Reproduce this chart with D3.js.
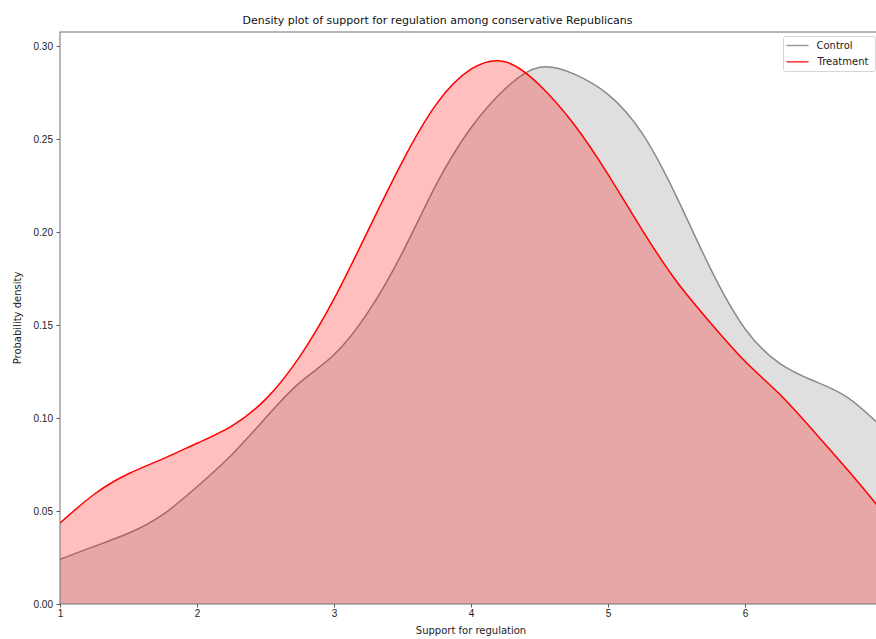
<!DOCTYPE html>
<html>
<head>
<meta charset="utf-8">
<script src="https://cdn.jsdelivr.net/npm/d3@7/dist/d3.min.js"></script>
<style>
  body { margin: 0; background: #fff; }
  svg { display: block; font-family: "DejaVu Sans", sans-serif; }
</style>
</head>
<body>
<svg id="chart"></svg>
<script>
const chartWidth = 876;
const chartHeight = 639;

// values, x step 0.25 from 1 to 7
const xValues = [
  1, 1.25, 1.5, 1.75, 2, 2.25, 2.5, 2.75, 3, 3.25, 3.5, 3.75, 4,
  4.25, 4.5, 4.75, 5, 5.25, 5.5, 5.75, 6, 6.25, 6.5, 6.75, 7,
];
const controlDensity = [
  0.024, 0.031, 0.038, 0.048, 0.063, 0.08, 0.1, 0.119, 0.134, 0.157,
  0.189, 0.226, 0.256, 0.277, 0.2885, 0.285, 0.274, 0.253, 0.219, 0.18,
  0.148, 0.1295, 0.12, 0.111, 0.095,
];
const treatmentDensity = [
  0.0435, 0.059, 0.07, 0.078, 0.0864, 0.0955, 0.11, 0.133, 0.164, 0.201,
  0.238, 0.269, 0.2875, 0.2915, 0.279, 0.258, 0.231, 0.201, 0.1735, 0.151,
  0.1305, 0.113, 0.093, 0.072, 0.05,
];
const xTicks = [1, 2, 3, 4, 5, 6];
const yTicks = [0, 0.05, 0.1, 0.15, 0.2, 0.25, 0.3];
const seriesNames = ["Control", "Treatment"];

const margin = { top: 32, left: 60, plotRight: 882, bottom: 604 };

const x = d3.scaleLinear().domain([1, 7]).range([margin.left, margin.plotRight]);
const y = d3.scaleLinear().domain([0, 0.3075]).range([margin.bottom, margin.top]);

const series = [
  { name: seriesNames[0], values: controlDensity, line: "#8a8a8a", fill: "#808080", legendLine: "#9a9a9a" },
  { name: seriesNames[1], values: treatmentDensity, line: "#ff0000", fill: "#ff0000", legendLine: "#ff3030" },
];

const svg = d3.select("#chart").attr("width", chartWidth).attr("height", chartHeight);

svg.append("defs")
  .append("clipPath")
  .attr("id", "plot-clip")
  .append("rect")
  .attr("x", margin.left)
  .attr("y", margin.top)
  .attr("width", margin.plotRight - margin.left)
  .attr("height", margin.bottom - margin.top);

const area = d3.area()
  .x((d, i) => x(xValues[i]))
  .y0(y(0))
  .y1((d) => y(d))
  .curve(d3.curveNatural);

const line = d3.line()
  .x((d, i) => x(xValues[i]))
  .y((d) => y(d))
  .curve(d3.curveNatural);

const plot = svg.append("g").attr("clip-path", "url(#plot-clip)");

series.forEach((s) => {
  plot.append("path")
    .attr("d", area(s.values))
    .attr("fill", s.fill)
    .attr("fill-opacity", 0.25);
  plot.append("path")
    .attr("d", line(s.values))
    .attr("fill", "none")
    .attr("stroke", s.line)
    .attr("stroke-width", 1.5);
});

//axes
const xAxis = svg.append("g")
  .attr("transform", "translate(0," + margin.bottom + ")")
  .call(d3.axisBottom(x).tickValues(xTicks).tickFormat(d3.format("d")).tickSize(3.5).tickPadding(2));

const yAxis = svg.append("g")
  .attr("transform", "translate(" + margin.left + ",0)")
  .call(d3.axisLeft(y).tickValues(yTicks).tickFormat(d3.format(".2f")).tickSize(3.5).tickPadding(3.5));

[xAxis, yAxis].forEach((ax) => {
  ax.select(".domain").remove();
  ax.selectAll("line").attr("stroke", "#555");
  ax.selectAll("text").attr("fill", "#222").style("font-size", "10px");
});

// spines
svg.append("rect")
  .attr("x", margin.left)
  .attr("y", margin.top)
  .attr("width", margin.plotRight - margin.left)
  .attr("height", margin.bottom - margin.top)
  .attr("fill", "none")
  .attr("stroke", "#707070")
  .attr("stroke-width", 1);

svg.append("text")
  .attr("x", 437.5)
  .attr("y", 24)
  .attr("text-anchor", "middle")
  .style("font-size", "11px")
  .attr("fill", "#111")
  .text("Density plot of support for regulation among conservative Republicans");

svg.append("text")
  .attr("x", (margin.left + margin.plotRight) / 2)
  .attr("y", 634)
  .attr("text-anchor", "middle")
  .style("font-size", "10px")
  .attr("fill", "#222")
  .text("Support for regulation");

svg.append("text")
  .attr("transform", "translate(21," + (margin.top + margin.bottom) / 2 + ") rotate(-90)")
  .attr("text-anchor", "middle")
  .style("font-size", "10px")
  .attr("fill", "#222")
  .text("Probability density");

//legend
const legend = svg.append("g").attr("transform", "translate(783.5,36.5)");

legend.append("rect")
  .attr("width", 92)
  .attr("height", 35)
  .attr("rx", 2)
  .attr("fill", "#fff")
  .attr("fill-opacity", 0.8)
  .attr("stroke", "#d6d6d6");

const legendItem = legend.selectAll("g.item")
  .data(series)
  .enter()
  .append("g")
  .attr("class", "item")
  .attr("transform", (d, i) => "translate(0," + (9 + i * 16.3) + ")");

legendItem.append("line")
  .attr("x1", 3)
  .attr("x2", 25)
  .attr("stroke", (d) => d.legendLine)
  .attr("stroke-width", 1.5);

legendItem.append("text")
  .attr("x", (d, i) => 33 + i)
  .attr("y", 3.5)
  .style("font-size", "10px")
  .attr("fill", "#222")
  .text((d) => d.name);
</script>
</body>
</html>
